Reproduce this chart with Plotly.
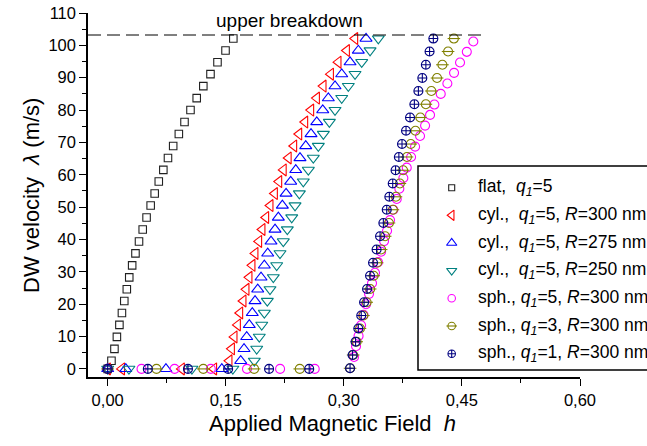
import plotly.graph_objects as go

# ---------------- data ----------------
LAM_CYL = [2.5, 6.2, 9.9, 13.6, 17.3, 21.0, 24.6, 28.3, 32.0, 35.7, 39.4, 43.1, 46.8, 50.5,
           54.2, 57.9, 61.5, 65.2, 68.9, 72.6, 76.3, 80.0, 83.7, 87.4, 91.1, 94.8, 98.4, 102.1]
LAM_SPH = [0.2, 4.3, 8.4, 12.5, 16.5, 20.6, 24.7, 28.8, 32.8, 36.9, 41.0, 45.1, 49.2,
           53.2, 57.3, 61.4, 65.5, 69.5, 73.6, 77.7, 81.8, 85.9, 89.9, 94.0, 98.1, 102.1]
LAM_SPH5 = [3.7, 7.0, 10.2, 13.5, 16.7, 20.0, 23.2, 26.5, 29.7, 33.0, 36.2, 39.5, 42.7, 46.0,
            49.2, 52.5, 55.7, 59.0, 62.2, 65.5, 68.7, 72.0, 75.2, 78.5, 81.7, 85.0, 88.2,
            91.5, 94.7, 98.0, 101.2]

H_FLAT_ZERO = [0.0]
H_FLAT = [0.0048, 0.0086, 0.0117, 0.0149, 0.0181, 0.0211, 0.0243, 0.0274, 0.0311, 0.0353,
          0.0398, 0.0445, 0.0494, 0.0546, 0.0597, 0.0649, 0.0707, 0.0766, 0.0832, 0.0904,
          0.0976, 0.1052, 0.1131, 0.1215, 0.1306, 0.1395, 0.1497, 0.1596]

H_CYL300_ZERO = [0.0, 0.018, 0.094, 0.135]
H_CYL300 = [0.1545, 0.1576, 0.1609, 0.1652, 0.1681, 0.1723, 0.1761, 0.1799, 0.1837, 0.1875,
            0.1922, 0.1964, 0.2011, 0.2066, 0.2122, 0.2177, 0.2234, 0.2297, 0.2367, 0.2431,
            0.2507, 0.2583, 0.2656, 0.2740, 0.2834, 0.2930, 0.3037, 0.3142]

H_CYL275_ZERO = [0.0, 0.023, 0.074, 0.145]
H_CYL275 = [0.1690, 0.1732, 0.1766, 0.1799, 0.1837, 0.1872, 0.1906, 0.1948, 0.1990, 0.2033,
            0.2075, 0.2126, 0.2168, 0.2219, 0.2266, 0.2325, 0.2389, 0.2443, 0.2516, 0.2583,
            0.2656, 0.2732, 0.2803, 0.2888, 0.2973, 0.3079, 0.3184, 0.3282]

H_CYL250_ZERO = [0.0, 0.027, 0.107, 0.159]
H_CYL250 = [0.1863, 0.1893, 0.1926, 0.1957, 0.1990, 0.2028, 0.2062, 0.2104, 0.2147, 0.2189,
            0.2231, 0.2282, 0.2338, 0.2380, 0.2435, 0.2485, 0.2549, 0.2612, 0.2676, 0.2740,
            0.2816, 0.2888, 0.2973, 0.3057, 0.3142, 0.3227, 0.3333, 0.3438]

H_SPH5_ZERO = [0.0, 0.043, 0.085, 0.131, 0.177, 0.219, 0.263]
H_SPH5 = [0.3130, 0.3155, 0.3187, 0.3219, 0.3250, 0.3282, 0.3320, 0.3358, 0.3396, 0.3434,
          0.3473, 0.3511, 0.3549, 0.3587, 0.3629, 0.3672, 0.3705, 0.3756, 0.3799, 0.3854,
          0.3905, 0.3968, 0.4032, 0.4095, 0.4150, 0.4231, 0.4315, 0.4400, 0.4476, 0.4562,
          0.4645]

H_SPH3_ZERO = [0.0, 0.062, 0.1215, 0.186, 0.244]
H_SPH3 = [0.3079, 0.3118, 0.3163, 0.3205, 0.3248, 0.3290, 0.3334, 0.3379, 0.3423, 0.3474,
          0.3525, 0.3573, 0.3623, 0.3662, 0.3712, 0.3753, 0.3802, 0.3850, 0.3910, 0.3972,
          0.4042, 0.4112, 0.4184, 0.4252, 0.4324, 0.4398]

H_SPH1_ZERO = [0.0, 0.051, 0.102, 0.153, 0.205, 0.256]
H_SPH1 = [0.3079, 0.3111, 0.3149, 0.3184, 0.3221, 0.3257, 0.3295, 0.3333, 0.3371, 0.3416,
          0.3460, 0.3502, 0.3545, 0.3578, 0.3621, 0.3657, 0.3699, 0.3739, 0.3790, 0.3841,
          0.3896, 0.3947, 0.3997, 0.4042, 0.4089, 0.4137]

BREAKDOWN_LAMBDA = 103.2
BREAKDOWN_H_END = 0.48

Q1 = "<i>q</i><sub><i>1</i></sub>"
LABELS = [
    "flat,&nbsp; " + Q1 + "=5",
    "cyl.,&nbsp; " + Q1 + "=5, <i>R</i>=300 nm",
    "cyl.,&nbsp; " + Q1 + "=5, <i>R</i>=275 nm",
    "cyl.,&nbsp; " + Q1 + "=5, <i>R</i>=250 nm",
    "sph., " + Q1 + "=5, <i>R</i>=300 nm",
    "sph., " + Q1 + "=3, <i>R</i>=300 nm",
    "sph., " + Q1 + "=1, <i>R</i>=300 nm",
]

SERIES = [
    (H_FLAT_ZERO, H_FLAT, LAM_CYL),
    (H_CYL300_ZERO, H_CYL300, LAM_CYL),
    (H_CYL275_ZERO, H_CYL275, LAM_CYL),
    (H_CYL250_ZERO, H_CYL250, LAM_CYL),
    (H_SPH5_ZERO, H_SPH5, LAM_SPH5),
    (H_SPH3_ZERO, H_SPH3, LAM_SPH),
    (H_SPH1_ZERO, H_SPH1, LAM_SPH),
]

# ---------------- styles ----------------
COLORS = ["#202020", "#FF0000", "#0000FF", "#008080", "#FF00FF", "#808000", "#000080"]
SYMBOLS = ["square-open", "triangle-left-open", "triangle-up-open", "triangle-down-open",
           "circle-open", "circle-open", "circle-cross-open"]
SIZES = [7.5, 10.5, 10.5, 10.5, 9, 9, 9]

W, H = 647, 446
ML, MR, MT, MB = 88, 67, 13, 69
PW, PH = W - ML - MR, H - MT - MB
FONT = "Liberation Sans, Arial, sans-serif"


def px_x(px):
    return (px - ML) / PW


def px_y(py):
    return (H - MB - py) / PH


fig = go.Figure()

for i, (hz, hr, lam) in enumerate(SERIES):
    xs = list(hz) + list(hr)
    ys = [0.0] * len(hz) + list(lam)
    fig.add_trace(go.Scatter(
        x=xs, y=ys, mode="markers", showlegend=False, cliponaxis=False,
        marker=dict(symbol=SYMBOLS[i], size=SIZES[i], color=COLORS[i],
                    line=dict(width=1.1, color=COLORS[i]))))
    if i == 5:  # horizontal bar inside circle
        fig.add_trace(go.Scatter(
            x=xs, y=ys, mode="markers", showlegend=False, cliponaxis=False,
            marker=dict(symbol="line-ew-open", size=SIZES[i], color=COLORS[i],
                        line=dict(width=1.1, color=COLORS[i]))))

# ---------------- custom legend ----------------
LEG_ROWS_PX = [187.7, 215.3, 243.0, 270.7, 298.3, 326.0, 353.7]
LEG_MARK_X = 451.7
LEG_TEXT_X = 476.0
for i, row in enumerate(LEG_ROWS_PX):
    fig.add_trace(go.Scatter(
        x=[px_x(LEG_MARK_X)], y=[px_y(row)], xaxis="x2", yaxis="y2", mode="markers",
        showlegend=False,
        marker=dict(symbol=SYMBOLS[i], size=SIZES[i] - 1.5, color=COLORS[i],
                    line=dict(width=1.1, color=COLORS[i]))))
    if i == 5:
        fig.add_trace(go.Scatter(
            x=[px_x(LEG_MARK_X)], y=[px_y(row)], xaxis="x2", yaxis="y2", mode="markers",
            showlegend=False,
            marker=dict(symbol="line-ew-open", size=SIZES[i] - 1.5, color=COLORS[i],
                        line=dict(width=1.1, color=COLORS[i]))))
    fig.add_annotation(x=px_x(LEG_TEXT_X), y=px_y(row), xref="paper", yref="paper",
                       text=LABELS[i], showarrow=False, xanchor="left", yanchor="middle",
                       font=dict(family=FONT, size=17.5, color="black"))

fig.add_shape(type="rect", xref="paper", yref="paper",
              x0=px_x(418), x1=px_x(700), y0=px_y(370), y1=px_y(166),
              line=dict(color="black", width=1.5), fillcolor="rgba(0,0,0,0)", layer="above")

# breakdown line + label
fig.add_shape(type="line", xref="x", yref="y", x0=-0.025, x1=BREAKDOWN_H_END,
              y0=BREAKDOWN_LAMBDA, y1=BREAKDOWN_LAMBDA,
              line=dict(color="black", width=1, dash="13px,6px"))
fig.add_annotation(x=px_x(289), y=px_y(20), xref="paper", yref="paper",
                   text="upper breakdown", showarrow=False, xanchor="center", yanchor="middle",
                   font=dict(family=FONT, size=19, color="black"))

# axis titles
fig.add_annotation(x=px_x(332), y=px_y(423), xref="paper", yref="paper",
                   text="Applied Magnetic Field&nbsp; <i>h</i>", showarrow=False,
                   xanchor="center", yanchor="middle",
                   font=dict(family=FONT, size=22, color="black"))
fig.add_annotation(x=px_x(31), y=px_y(196), xref="paper", yref="paper",
                   text="DW velocity&nbsp; <i>λ</i> (m/s)", showarrow=False, textangle=-90,
                   xanchor="center", yanchor="middle",
                   font=dict(family=FONT, size=22, color="black"))

fig.update_layout(
    template="none",
    width=W, height=H, margin=dict(l=ML, r=MR, t=MT, b=MB, pad=0, autoexpand=False),
    paper_bgcolor="white", plot_bgcolor="rgba(0,0,0,0)",
    separators=", ", showlegend=False,
    font=dict(family=FONT, size=16, color="black"),
    xaxis=dict(range=[-0.025, 0.60], tick0=0, dtick=0.15, tickformat=".2f",
               automargin=False,
               showgrid=False, zeroline=False, showline=True, linecolor="black",
               linewidth=1.5, ticks="outside", ticklen=7, tickwidth=1.3, tickcolor="black",
               tickfont=dict(family=FONT, size=16.5, color="black"),
               minor=dict(dtick=0.075, ticks="outside", ticklen=4, tickwidth=1.3,
                          tickcolor="black", showgrid=False)),
    yaxis=dict(range=[-2.5, 110], tick0=0, dtick=10,
               automargin=False,
               showgrid=False, zeroline=False, showline=True, linecolor="black",
               linewidth=1.5, ticks="outside", ticklen=7, tickwidth=1.3, tickcolor="black",
               tickfont=dict(family=FONT, size=16.5, color="black"),
               minor=dict(dtick=5, ticks="outside", ticklen=4, tickwidth=1.3,
                          tickcolor="black", showgrid=False)),
    xaxis2=dict(range=[0, 1], overlaying="x", visible=False),
    yaxis2=dict(range=[0, 1], overlaying="y", visible=False),
)

fig.write_html("out.html")
